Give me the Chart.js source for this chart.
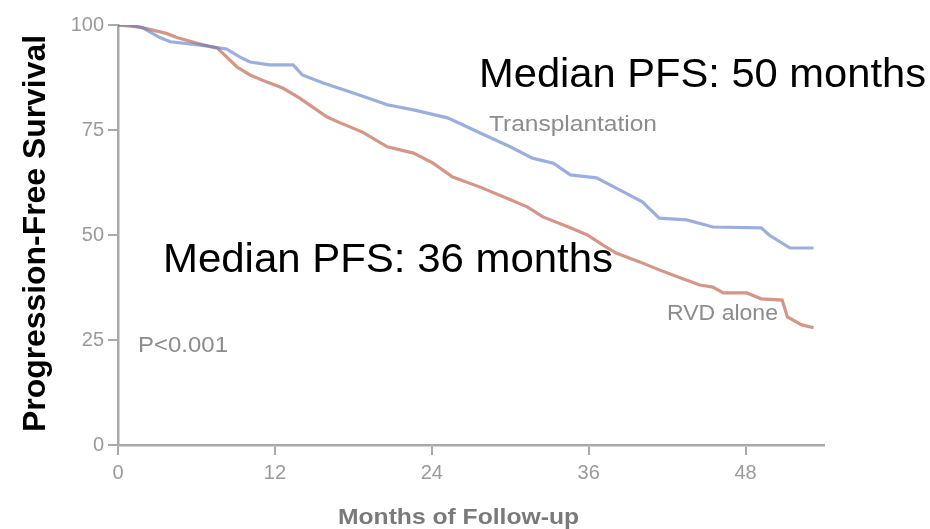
<!DOCTYPE html>
<html>
<head>
<meta charset="utf-8">
<style>
  html, body { margin: 0; padding: 0; background: #ffffff; }
  #wrap { width: 930px; height: 529px; }
</style>
<script src="https://cdn.jsdelivr.net/npm/chart.js@4.4.1/dist/chart.umd.min.js"></script>
</head>
<body>
<div id="wrap"><canvas id="pfs" width="930" height="529"></canvas></div>
<script>
// Kaplan-Meier progression-free survival, months of follow-up vs. percent
const transplantMonths = [0, 0.9, 1.9, 3.2, 4.0, 6.3, 8.3, 9.3, 10.1, 11.6, 13.4, 14.1, 15.7, 18.0, 20.6, 22.6,
  25.2, 26.4, 27.7, 30.0, 31.7, 33.3, 34.6, 36.6, 38.4, 40.1, 41.4, 43.5, 45.5, 49.2, 49.8, 51.4, 53.2];
const transplantPFS = [100, 100, 99.3, 97, 96, 95.2, 94.3, 92.4, 91.2, 90.5, 90.5, 88.1, 86.2, 83.8, 81, 79.8,
  77.9, 76.2, 74.3, 71, 68.3, 67.1, 64.3, 63.6, 60.7, 57.9, 54, 53.6, 51.9, 51.7, 50, 46.9, 46.9];

const rvdMonths = [0, 1.7, 3.7, 4.5, 6.0, 7.6, 8.3, 9.1, 10.1, 11.4, 12.6, 13.9, 15.2, 16.0, 17.0, 18.7, 20.6,
  22.6, 24.1, 25.6, 27.7, 29.7, 31.3, 32.5, 34.6, 35.9, 37.1, 38.1, 39.9, 41.4, 43.0, 44.5, 45.5, 46.3, 48.1,
  49.2, 50.8, 51.2, 52.3, 53.2];
const rvdPFS = [100, 99.5, 98, 97, 95.7, 94.5, 92.4, 90, 88.1, 86.4, 85, 82.6, 79.8, 78.1, 76.7, 74.5, 71,
  69.5, 67.1, 63.8, 61.4, 58.8, 56.7, 54.3, 51.7, 50, 47.6, 45.7, 43.6, 41.7, 39.8, 38.1, 37.6, 36.2, 36.2,
  34.8, 34.5, 30.5, 28.6, 27.9];

const xTicks = [0, 12, 24, 36, 48];
const yTicks = [0, 25, 50, 75, 100];

const seriesNames = ['Transplantation', 'RVD alone'];
const medianNotes = ['Median PFS: 50 months', 'Median PFS: 36 months'];
const pValueNote = 'P<0.001';
const xTitle = 'Months of Follow-up';
const yTitle = 'Progression-Free Survival';

const toPoints = (xs, ys) => xs.map((x, i) => ({ x: x, y: ys[i] }));

// Draw text stretched horizontally to a given width
function drawFit(ctx, text, x, y, width, font, color) {
  ctx.save();
  ctx.font = font;
  ctx.fillStyle = color;
  ctx.textAlign = 'left';
  ctx.textBaseline = 'alphabetic';
  const w = ctx.measureText(text).width;
  ctx.translate(x, y);
  ctx.scale(width / w, 1);
  ctx.fillText(text, 0, 0);
  ctx.restore();
}

const notesPlugin = {
  id: 'notes',
  afterDraw(chart) {
    const ctx = chart.ctx;
    const grey = '#8c8c8c';
    // series labels and p-value
    drawFit(ctx, seriesNames[0], 489, 131, 168, '22px "Liberation Sans", Arial, sans-serif', grey);
    drawFit(ctx, seriesNames[1], 667, 320, 111, '22px "Liberation Sans", Arial, sans-serif', grey);
    drawFit(ctx, pValueNote, 138, 352, 90, '22px "Liberation Sans", Arial, sans-serif', grey);
    // median annotations
    drawFit(ctx, medianNotes[0], 479, 87, 447, '41px "Liberation Sans", Arial, sans-serif', '#000000');
    drawFit(ctx, medianNotes[1], 163, 272, 450, '41px "Liberation Sans", Arial, sans-serif', '#000000');
    // axis titles
    drawFit(ctx, xTitle, 338, 524, 241, 'bold 22px "Liberation Sans", Arial, sans-serif', '#7a7a7a');
    ctx.save();
    ctx.translate(45, 432);
    ctx.rotate(-Math.PI / 2);
    drawFit(ctx, yTitle, 0, 0, 397, 'bold 31px "Liberation Sans", Arial, sans-serif', '#000000');
    ctx.restore();
  }
};

const axisGrey = '#a9a9a9';

new Chart(document.getElementById('pfs'), {
  type: 'line',
  data: {
    datasets: [
      {
        label: seriesNames[0],
        data: toPoints(transplantMonths, transplantPFS),
        borderColor: 'rgba(95,125,200,0.62)',
        borderWidth: 3.2,
        pointRadius: 0,
        tension: 0,
        fill: false
      },
      {
        label: seriesNames[1],
        data: toPoints(rvdMonths, rvdPFS),
        borderColor: 'rgba(185,85,62,0.62)',
        borderWidth: 3.2,
        pointRadius: 0,
        tension: 0,
        fill: false
      }
    ]
  },
  options: {
    responsive: false,
    animation: false,
    devicePixelRatio: 1,
    layout: { padding: { top: 25, right: 106, left: 0, bottom: 0 } },
    plugins: {
      legend: { display: false },
      tooltip: { enabled: false },
      title: { display: false }
    },
    scales: {
      x: {
        type: 'linear',
        min: 0,
        max: 54,
        afterBuildTicks(scale) {
          scale.ticks = xTicks.map(v => ({ value: v }));
        },
        afterFit(scale) { scale.height = 84; },
        ticks: {
          color: '#9a9a9a',
          font: { size: 20, family: '"Liberation Sans", Arial, sans-serif' },
          padding: 6,
          maxRotation: 0
        },
        grid: { drawOnChartArea: false, drawTicks: true, tickLength: 10, color: axisGrey, lineWidth: 2 },
        border: { color: axisGrey, width: 2.5 }
      },
      y: {
        type: 'linear',
        min: 0,
        max: 100,
        afterBuildTicks(scale) {
          scale.ticks = yTicks.map(v => ({ value: v }));
        },
        afterFit(scale) { scale.width = 118; },
        ticks: {
          color: '#9a9a9a',
          font: { size: 20, family: '"Liberation Sans", Arial, sans-serif' },
          padding: 4
        },
        grid: { drawOnChartArea: false, drawTicks: true, tickLength: 10, color: axisGrey, lineWidth: 2 },
        border: { color: axisGrey, width: 2.5 }
      }
    }
  },
  plugins: [notesPlugin]
});
</script>
</body>
</html>
